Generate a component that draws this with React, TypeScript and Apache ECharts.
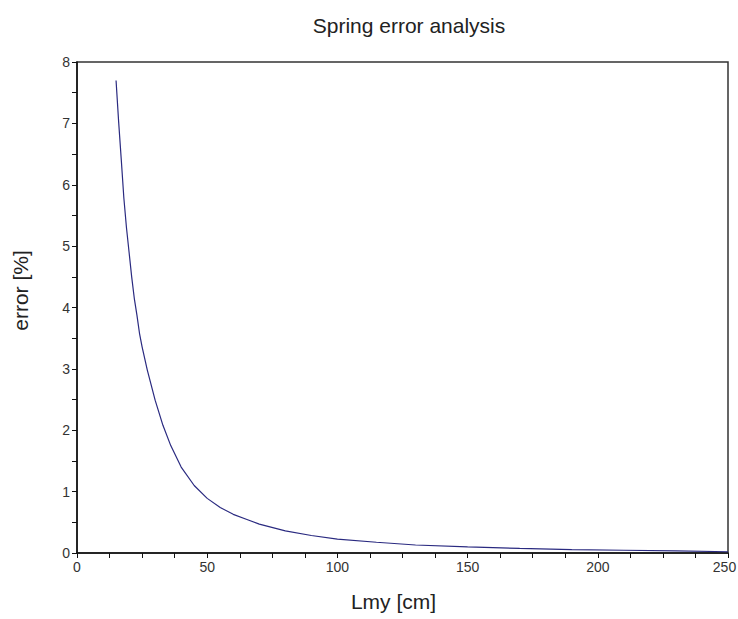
import React, { useEffect, useRef } from "react";
import * as echarts from "echarts";

const lengthCm = [15, 16, 17, 18, 19, 20, 21, 22, 23, 24, 25, 27, 30, 33, 36, 40, 45, 50, 55, 60, 65, 70, 80, 90, 100, 115, 130, 150, 170, 190, 210, 230, 250];
const errorPct = [7.70, 7.02, 6.41, 5.78, 5.30, 4.90, 4.50, 4.15, 3.88, 3.58, 3.36, 2.98, 2.49, 2.08, 1.75, 1.40, 1.10, 0.89, 0.74, 0.63, 0.55, 0.47, 0.36, 0.285, 0.225, 0.175, 0.13, 0.10, 0.075, 0.055, 0.045, 0.035, 0.02];

const titleText = "Spring error analysis";
const xName = "Lmy [cm]";
const yName = "error [%]";
const xMax = 250;

export default function App() {
  const ref = useRef<HTMLDivElement>(null);
  useEffect(() => {
    if (!ref.current) return;
    const chart = echarts.init(ref.current, undefined, { renderer: "svg" });
    const font = "'Liberation Sans', Arial, sans-serif";
    chart.setOption({
      animation: false,
      backgroundColor: "#ffffff",
      title: {
        text: titleText,
        left: 404,
        top: 10,
        textAlign: "center",
        textStyle: { fontFamily: font, fontSize: 21, fontWeight: "normal", color: "#222" },
      },
      grid: {
        left: 77,
        right: 10,
        top: 62,
        bottom: 66,
        containLabel: false,
        outerBoundsMode: "none",
        show: true,
        borderColor: "#333",
        borderWidth: 1.5,
        backgroundColor: "transparent",
      },
      xAxis: {
        type: "value",
        min: 0,
        max: xMax,
        interval: 50,
        name: xName,
        nameLocation: "middle",
        nameGap: 38,
        nameTextStyle: { fontFamily: font, fontSize: 21, color: "#222", padding: [0, 18, 0, 0] },
        axisLine: { show: true, onZero: false, lineStyle: { color: "#111", width: 1.5 } },
        axisTick: { show: true, inside: false, length: 5, lineStyle: { color: "#111" } },
        minorTick: { show: true, splitNumber: 4, length: 5, lineStyle: { color: "#111" } },
        splitLine: { show: false },
        axisLabel: {
          fontFamily: font,
          fontSize: 14,
          color: "#333",
          margin: 7,
          formatter: (v: number) => (v === xMax ? "{m|" + v + "}" : String(v)),
          rich: { m: { fontFamily: font, fontSize: 14, color: "#333", padding: [0, 7, 0, 0] } },
        },
      },
      yAxis: {
        type: "value",
        min: 0,
        max: 8,
        interval: 1,
        name: yName,
        nameLocation: "middle",
        nameGap: 46,
        nameTextStyle: { fontFamily: font, fontSize: 21, color: "#222", padding: [0, 0, 0, 34] },
        axisLine: { show: true, onZero: false, lineStyle: { color: "#111", width: 1.5 } },
        axisTick: { show: true, inside: false, length: 5, lineStyle: { color: "#111" } },
        minorTick: { show: true, splitNumber: 2, length: 5, lineStyle: { color: "#111" } },
        splitLine: { show: false },
        axisLabel: { fontFamily: font, fontSize: 14, color: "#333", margin: 7 },
      },
      series: [
        {
          type: "line",
          data: lengthCm.map((l, i) => [l, errorPct[i]]),
          showSymbol: false,
          smooth: false,
          lineStyle: { color: "#2a2a80", width: 1.2 },
          itemStyle: { color: "#2a2a80" },
        },
      ],
    });
    return () => chart.dispose();
  }, []);
  return (
    <div
      ref={ref}
      style={{ position: "fixed", left: 0, top: 0, width: 738, height: 619 }}
    />
  );
}
